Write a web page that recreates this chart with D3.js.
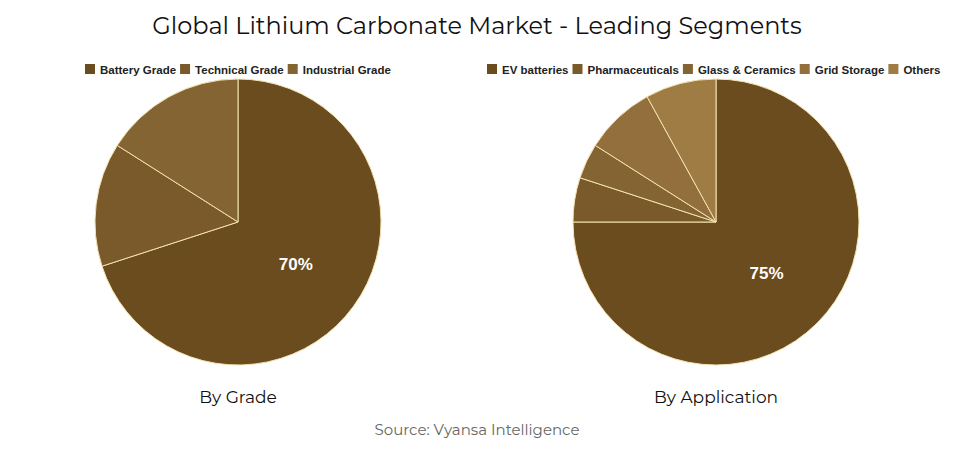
<!DOCTYPE html>
<html><head><meta charset="utf-8">
<script src="https://cdn.jsdelivr.net/npm/d3@7"></script>
<style>body{margin:0;background:#fff}</style>
</head><body>
<svg id="chart" width="955" height="454"></svg>
<script>
const gradeLabels = ['Battery Grade', 'Technical Grade', 'Industrial Grade'];
const gradeValues = [70, 14, 16];
const appLabels = ['EV batteries', 'Pharmaceuticals', 'Glass & Ceramics', 'Grid Storage', 'Others'];
const appValues = [75, 5, 4, 8, 8];
const palette = ['#6b4c1e', '#7a5a2a', '#856433', '#926f3c', '#9e7c44'];

const svg = d3.select('#chart');
const font = 'Montserrat, "Open Sans", sans-serif';

svg.append('text').attr('x', 477).attr('y', 34).attr('text-anchor', 'middle')
  .attr('font-family', font).attr('font-size', 24).attr('fill', '#111')
  .text('Global Lithium Carbonate Market - Leading Segments');

svg.append('text').attr('x', 477).attr('y', 435).attr('text-anchor', 'middle')
  .attr('font-family', font).attr('font-size', 15).attr('fill', '#666')
  .text('Source: Vyansa Intelligence');

function drawPie(cx, cy, r, labels, values, title, legendX) {
  const pie = d3.pie().sort(null)(values);
  const arc = d3.arc().innerRadius(0).outerRadius(r);
  const g = svg.append('g').attr('transform', `translate(${cx},${cy})`);
  g.selectAll('path').data(pie).enter().append('path')
    .attr('d', arc).attr('fill', (d, i) => palette[i])
    .attr('stroke', '#f3e3b0').attr('stroke-width', 1);
  const [lx, ly] = arc.centroid(pie[0]);
  g.append('text').attr('x', lx).attr('y', ly).attr('dy', '0.35em')
    .attr('text-anchor', 'middle').attr('font-family', 'Liberation Sans, Arial, sans-serif')
    .attr('font-weight', 'bold').attr('font-size', 17).attr('fill', '#fff')
    .text(values[0] + '%');

  svg.append('text').attr('x', cx).attr('y', cy + 181).attr('text-anchor', 'middle')
    .attr('font-family', font).attr('font-size', 17).attr('fill', '#111').text(title);

  let x = legendX;
  const lg = svg.append('g');
  labels.forEach((l, i) => {
    lg.append('rect').attr('x', x).attr('y', 64).attr('width', 10).attr('height', 10).attr('fill', palette[i]);
    const t = lg.append('text').attr('x', x + 15).attr('y', 73.5)
      .attr('font-family', 'Liberation Sans, Arial, sans-serif').attr('font-weight', 'bold')
      .attr('font-size', 11.5).attr('fill', '#222').text(l);
    x += 15 + t.node().getComputedTextLength() + 4;
  });
}

drawPie(238, 222, 143, gradeLabels, gradeValues, 'By Grade', 85);
drawPie(716, 222, 143, appLabels, appValues, 'By Application', 487);
</script>
</body></html>
